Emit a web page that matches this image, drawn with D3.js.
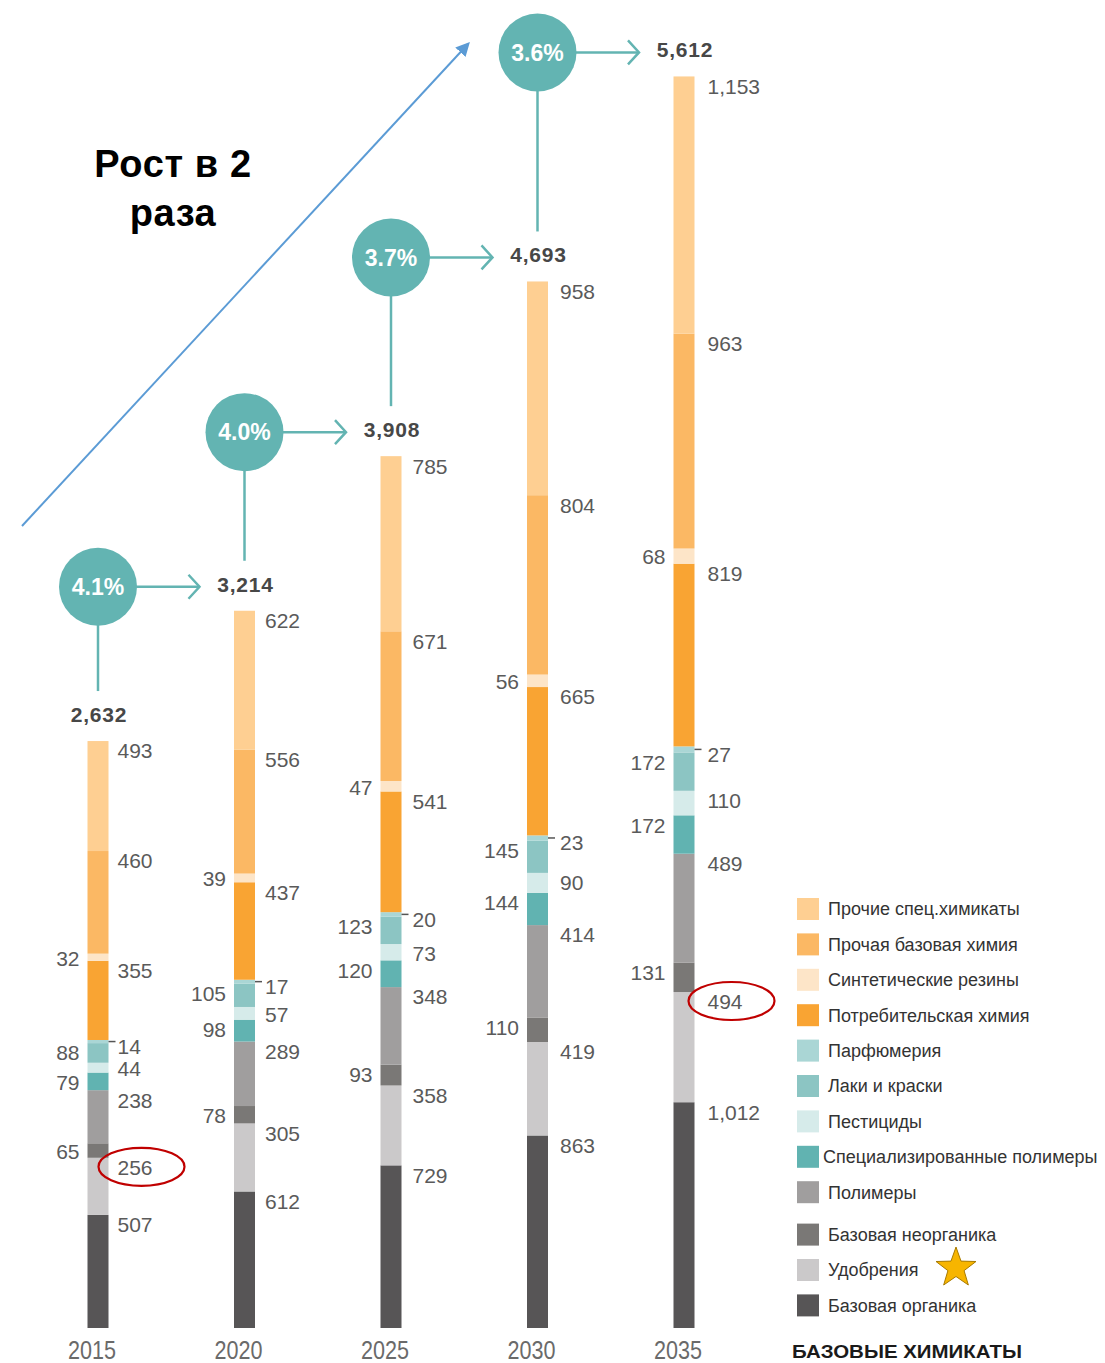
<!DOCTYPE html>
<html>
<head>
<meta charset="utf-8">
<script src="https://cdn.jsdelivr.net/npm/d3@7"></script>
<style>
  body { margin: 0; background: #fff; }
  svg { display: block; font-family: "Liberation Sans", Arial, sans-serif; }
  .val { font-size: 21px; fill: #5a5a5a; }
  .total { font-size: 21px; font-weight: bold; fill: #474747; }
  .year { font-size: 25px; fill: #6a6a6a; }
  .rate { font-size: 23px; font-weight: bold; fill: #fff; }
  .leg { font-size: 18px; fill: #333; }
</style>
</head>
<body>
<svg id="chart" width="1105" height="1363"></svg>
<script>
const WIDTH = 1105;
const HEIGHT = 1363;

// data
const years = ["2015", "2020", "2025", "2030", "2035"];
const totals = [2632, 3214, 3908, 4693, 5612];
const growth = ["4.1%", "4.0%", "3.7%", "3.6%"];

// segments, bottom to top
const baseOrganic   = [507, 612, 729, 863, 1012];
const fertilizers   = [256, 305, 358, 419, 494];
const baseInorganic = [65, 78, 93, 110, 131];
const polymers      = [238, 289, 348, 414, 489];
const specPolymers  = [79, 98, 120, 144, 172];
const pesticides    = [44, 57, 73, 90, 110];
const paints        = [88, 105, 123, 145, 172];
const perfumery     = [14, 17, 20, 23, 27];
const consumer      = [355, 437, 541, 665, 819];
const rubbers       = [32, 39, 47, 56, 68];
const otherBasic    = [460, 556, 671, 804, 963];
const otherSpecial  = [493, 622, 785, 958, 1153];

const series = [
  { key: "baseOrganic",   name: "Базовая органика",            values: baseOrganic,   color: "#575556", side: "right" },
  { key: "fertilizers",   name: "Удобрения",                   values: fertilizers,   color: "#cbc9ca", side: "right" },
  { key: "baseInorganic", name: "Базовая неорганика",          values: baseInorganic, color: "#7a7876", side: "left" },
  { key: "polymers",      name: "Полимеры",                    values: polymers,      color: "#a09e9e", side: "right" },
  { key: "specPolymers",  name: "Специализированные полимеры", values: specPolymers,  color: "#61b3b1", side: "left" },
  { key: "pesticides",    name: "Пестициды",                   values: pesticides,    color: "#d6ebea", side: "right" },
  { key: "paints",        name: "Лаки и краски",               values: paints,        color: "#8cc5c3", side: "left" },
  { key: "perfumery",     name: "Парфюмерия",                  values: perfumery,     color: "#aad6d5", side: "tick" },
  { key: "consumer",      name: "Потребительская химия",       values: consumer,      color: "#f9a433", side: "right" },
  { key: "rubbers",       name: "Синтетические резины",        values: rubbers,       color: "#fde5c8", side: "left" },
  { key: "otherBasic",    name: "Прочая базовая химия",        values: otherBasic,    color: "#fbb864", side: "right" },
  { key: "otherSpecial",  name: "Прочие спец.химикаты",        values: otherSpecial,  color: "#fecf92", side: "right" }
];

const table = years.map((y, i) => {
  let row = { year: y };
  series.forEach(s => { row[s.key] = s.values[i]; });
  return row;
});

const stacked = d3.stack().keys(series.map(s => s.key))(table);

const fmt = d3.format(",");
const teal = "#63b4b2";
const barW = 21;
// right-hand labels sit a little further out on later bars
const rightGap = i => 9 + i;

let svg = d3.select("#chart");

let x = d3.scalePoint()
          .domain(years)
          .range([98, 684]);

let y = d3.scaleLinear()
          .domain([0, d3.max(totals)])
          .range([1328, 76]);

const topOf = i => y(d3.sum(series, s => s.values[i]));

// bars
let bars = svg.append("g").attr("id", "bars");
bars.selectAll("g")
    .data(stacked)
    .enter().append("g")
    .attr("fill", (d, i) => series[i].color)
    .selectAll("rect")
    .data(d => d)
    .enter().append("rect")
    .attr("x", d => x(d.data.year) - barW / 2)
    .attr("y", d => y(d[1]))
    .attr("width", barW)
    .attr("height", d => y(d[0]) - y(d[1]));

// value labels
let labels = svg.append("g").attr("id", "labels");
stacked.forEach((layer, si) => {
  let s = series[si];
  layer.forEach((d, i) => {
    let top = y(d[1]);
    let h = y(d[0]) - y(d[1]);
    let cx = x(d.data.year);
    let ly = top + Math.min(h / 2, 9) + 1;
    if (s.side === "left") {
      labels.append("text").attr("class", "val")
            .attr("x", cx - barW / 2 - 8).attr("y", ly).attr("dy", "0.35em")
            .attr("text-anchor", "end").text(fmt(s.values[i]));
    } else if (s.side === "tick") {
      labels.append("line")
            .attr("x1", cx + barW / 2).attr("x2", cx + barW / 2 + 7)
            .attr("y1", top + h / 2).attr("y2", top + h / 2)
            .attr("stroke", "#555").attr("stroke-width", 1.5);
      labels.append("text").attr("class", "val")
            .attr("x", cx + barW / 2 + rightGap(i)).attr("y", top + h / 2 + 5).attr("dy", "0.35em")
            .text(fmt(s.values[i]));
    } else {
      labels.append("text").attr("class", "val")
            .attr("x", cx + barW / 2 + rightGap(i)).attr("y", ly).attr("dy", "0.35em")
            .text(fmt(s.values[i]));
    }
  });
});

// totals above bars
svg.append("g").selectAll("text")
   .data(totals)
   .enter().append("text")
   .attr("class", "total")
   .attr("x", (d, i) => x(years[i]) + 1)
   .attr("y", (d, i) => topOf(i) - 19)
   .attr("text-anchor", "middle")
   .style("letter-spacing", "0.8px")
   .text(d => fmt(d));

// years (condensed look)
svg.append("g").selectAll("text")
   .data(years)
   .enter().append("text")
   .attr("class", "year")
   .attr("x", d => x(d) - 6)
   .attr("y", 1359)
   .attr("text-anchor", "middle")
   .attr("textLength", 48)
   .attr("lengthAdjust", "spacingAndGlyphs")
   .text(d => d);

// growth circles with connectors
let rates = svg.append("g").attr("id", "rates");
growth.forEach((g, i) => {
  let cx = x(years[i]);
  let cy = topOf(i + 1) - 24;
  let r = 39;
  let lineEnd = topOf(i) - 19 - 31;
  let tip = x(years[i + 1]) - 45;

  rates.append("line")
       .attr("x1", cx).attr("x2", cx)
       .attr("y1", cy).attr("y2", lineEnd)
       .attr("stroke", teal).attr("stroke-width", 2.5);
  rates.append("line")
       .attr("x1", cx).attr("x2", tip)
       .attr("y1", cy).attr("y2", cy)
       .attr("stroke", teal).attr("stroke-width", 2.5);
  rates.append("path")
       .attr("d", `M${tip - 11},${cy - 12} L${tip},${cy} L${tip - 11},${cy + 12}`)
       .attr("fill", "none").attr("stroke", teal).attr("stroke-width", 2.5);
  rates.append("circle")
       .attr("cx", cx).attr("cy", cy).attr("r", r)
       .attr("fill", teal);
  rates.append("text").attr("class", "rate")
       .attr("x", cx).attr("y", cy).attr("dy", "0.36em")
       .attr("text-anchor", "middle").text(g);
});

// big growth arrow
svg.append("defs").append("marker")
   .attr("id", "head")
   .attr("viewBox", "0 0 10 10")
   .attr("refX", 8).attr("refY", 5)
   .attr("markerWidth", 7).attr("markerHeight", 7)
   .attr("orient", "auto")
   .append("path").attr("d", "M0,0 L10,5 L0,10 z").attr("fill", "#5b9bd5");

svg.append("line")
   .attr("x1", 22).attr("y1", 526)
   .attr("x2", 468).attr("y2", 44)
   .attr("stroke", "#5b9bd5").attr("stroke-width", 2)
   .attr("marker-end", "url(#head)");

svg.append("text")
   .attr("x", 173).attr("text-anchor", "middle")
   .style("font-size", "38px").style("font-weight", "bold").style("fill", "#000")
   .style("letter-spacing", "0.6px")
   .selectAll("tspan")
   .data(["Рост в 2", "раза"])
   .enter().append("tspan")
   .attr("x", 173)
   .attr("y", (d, i) => 177 + i * 49)
   .text(d => d);

// highlighted fertilizer values
const marked = [0, 4];
svg.append("g").selectAll("ellipse")
   .data(marked)
   .enter().append("ellipse")
   .attr("cx", i => x(years[i]) + barW / 2 + rightGap(i) + 24)
   .attr("cy", i => y(baseOrganic[i] + fertilizers[i]) + 9)
   .attr("rx", 43).attr("ry", 19)
   .attr("fill", "none").attr("stroke", "#c00000").attr("stroke-width", 2.2);

// legend, top to bottom
let legend = svg.append("g").attr("id", "legend");
let legItems = series.slice().reverse();
legItems.forEach((s, i) => {
  let ly = 909 + i * 35.4 + (i >= 9 ? 7 : 0);
  legend.append("rect")
        .attr("x", 797).attr("y", ly - 11)
        .attr("width", 22).attr("height", 22)
        .attr("fill", s.color);
  legend.append("text").attr("class", "leg")
        .attr("x", s.key === "specPolymers" ? 823 : 828).attr("y", ly).attr("dy", "0.35em")
        .text(s.name);
});

// star next to fertilizers
const star = d3.range(10).map(k => {
  let a = -Math.PI / 2 + k * Math.PI / 5;
  let rr = k % 2 === 0 ? 21 : 8.5;
  return [956 + rr * Math.cos(a), 1268 + rr * Math.sin(a)];
});
legend.append("path")
      .attr("d", "M" + star.join("L") + "Z")
      .attr("fill", "#f7b500").attr("stroke", "#a87a00").attr("stroke-width", 1);

svg.append("text")
   .attr("x", 792).attr("y", 1358)
   .attr("textLength", 230)
   .attr("lengthAdjust", "spacingAndGlyphs")
   .style("font-size", "18px").style("font-weight", "bold").style("fill", "#1a1a1a")
   .text("БАЗОВЫЕ ХИМИКАТЫ");
</script>
</body>
</html>
